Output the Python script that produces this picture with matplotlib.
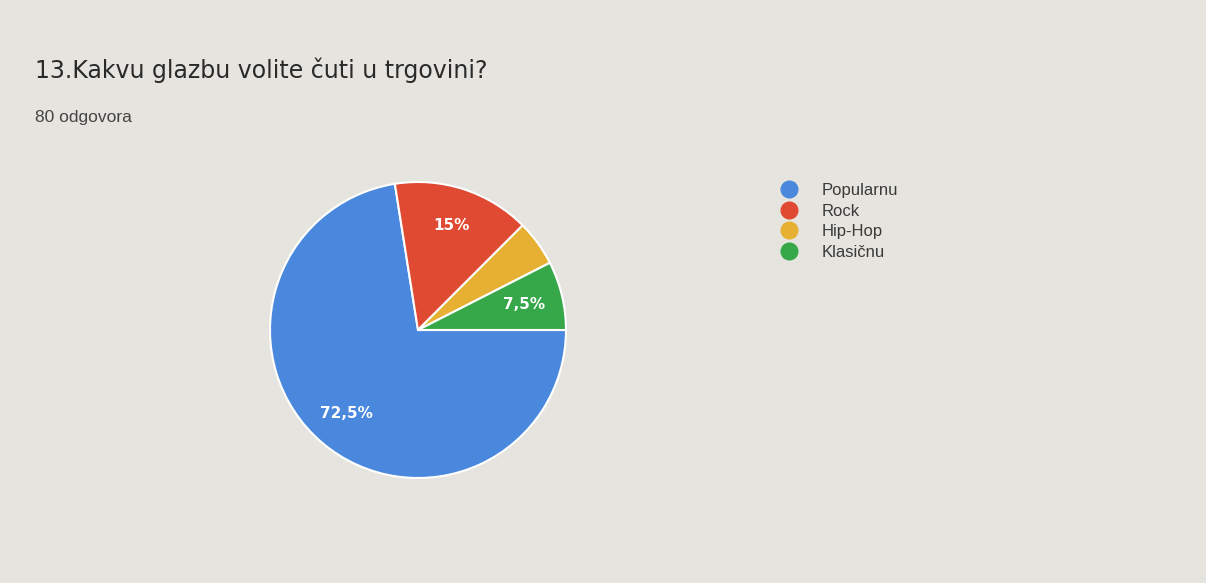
import matplotlib
matplotlib.use("Agg")
import matplotlib.pyplot as plt
from matplotlib.lines import Line2D

# survey answers (80 responses)
categories = ["Popularnu", "Rock", "Hip-Hop", "Klasičnu"]
counts = [58, 12, 4, 6]
colors = ["#4a88de", "#e04a33", "#e6b033", "#36a84a"]
title = "13.Kakvu glazbu volite čuti u trgovini?"
subtitle = "80 odgovora"

bg = "#e6e4de"
fig = plt.figure(figsize=(12.06, 5.83), dpi=100, facecolor=bg)

# pie axes centred at ~(418, 330) px, radius ~148 px
cx, cy, r = 418 / 1206, 1 - 330 / 583, 148
w, h = 2 * r / 1206, 2 * r / 583
ax = fig.add_axes([cx - w / 2, cy - h / 2, w, h])
ax.set_facecolor(bg)


def pct(p):
    if p < 6:
        return ""
    s = ("%.1f" % p).rstrip("0").rstrip(".").replace(".", ",")
    return s + "%"


wedges, texts, autotexts = ax.pie(
    counts,
    colors=colors,
    startangle=0,
    counterclock=False,
    autopct=pct,
    pctdistance=0.74,
    radius=1,
    wedgeprops=dict(edgecolor="white", linewidth=1.5, clip_on=False),
    textprops=dict(color="white", fontsize=11, fontweight="bold"),
)
ax.set_xlim(-1.0, 1.0)
ax.set_ylim(-1.0, 1.0)
ax.set_aspect("equal")
ax.axis("off")

fig.text(35 / 1206, 1 - 70 / 583, title, fontsize=17, color="#2a2a2a",
         va="center", ha="left")
fig.text(35 / 1206, 1 - 117 / 583, subtitle, fontsize=12.5, color="#444444",
         va="center", ha="left", family="Liberation Sans")

handles = [Line2D([], [], marker="o", linestyle="none", markersize=12,
                  markerfacecolor=c, markeredgecolor=c) for c in colors]
fig.legend(handles, categories, loc="upper left",
           bbox_to_anchor=(772 / 1206, 1 - 175 / 583),
           frameon=False, labelspacing=0.33,
           handletextpad=1.5, handlelength=1.0, borderpad=0,
           labelcolor="#3a3a3a",
           prop=dict(family="Liberation Sans", size=12))

fig.savefig("out.png", dpi=100, facecolor=bg)
